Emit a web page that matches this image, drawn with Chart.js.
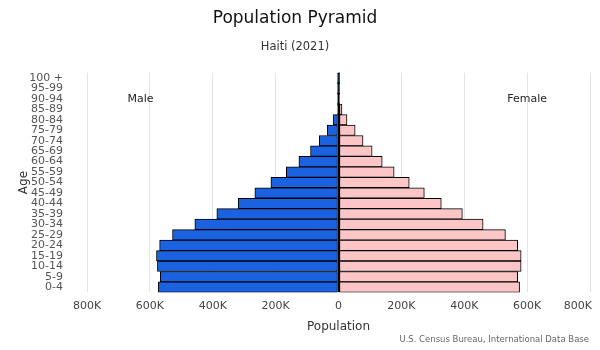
<!DOCTYPE html>
<html>
<head>
<meta charset="utf-8">
<script src="https://cdn.jsdelivr.net/npm/chart.js@4.4.1/dist/chart.umd.min.js"></script>
<style>
    html, body { margin: 0; padding: 0; background: #fff; }
    #wrap { width: 600px; height: 350px; }
</style>
</head>
<body>
<div id="wrap"><canvas id="chart"></canvas></div>
<script>
// Данные (сверху вниз, как на графике)
const ageGroups = ['100 +', '95-99', '90-94', '85-89', '80-84', '75-79', '70-74', '65-69',
    '60-64', '55-59', '50-54', '45-49', '40-44', '35-39', '30-34', '25-29', '20-24',
    '15-19', '10-14', '5-9', '0-4'];
const maleValues = [100, 500, 1800, 4000, 17000, 36000, 61000, 89000, 126000, 166000, 215000,
    266000, 319000, 387000, 457000, 528000, 569000, 579000, 576000, 567000, 573000];
const femaleValues = [300, 1000, 3500, 11000, 27000, 53000, 78000, 107000, 139000, 177000, 225000,
    273000, 327000, 394000, 460000, 531000, 570000, 581000, 581000, 570000, 576000];
const axisTicks = [-800000, -600000, -400000, -200000, 0, 200000, 400000, 600000, 800000];

const FONT = "'DejaVu Sans', sans-serif";

// Подписи Male / Female и источник
const extraText = {
    id: 'extraText',
    afterDatasetsDraw(chart) {
        const ctx = chart.ctx;
        const x = chart.scales.x;
        ctx.save();
        ctx.font = `11px ${FONT}`;
        ctx.fillStyle = '#222';
        ctx.textAlign = 'center';
        ctx.textBaseline = 'middle';
        ctx.fillText('Male', x.getPixelForValue(-630000), 99);
        ctx.fillText('Female', x.getPixelForValue(600000), 99);
        ctx.font = `8.5px ${FONT}`;
        ctx.fillStyle = '#666';
        ctx.textAlign = 'right';
        ctx.fillText('U.S. Census Bureau, International Data Base', 589, 340);
        ctx.restore();
    }
};

const ctx = document.getElementById('chart').getContext('2d');
const chart = new Chart(ctx, {
    type: 'bar',
    data: {
        labels: ageGroups,
        datasets: [
            {
                label: 'Male',
                data: maleValues.map(v => -v),
                backgroundColor: '#1a62e0',
                borderColor: '#000',
                borderWidth: 1,
                borderSkipped: false,
                barPercentage: 1,
                categoryPercentage: 1
            },
            {
                label: 'Female',
                data: femaleValues,
                backgroundColor: '#fcc6c7',
                borderColor: '#000',
                borderWidth: 1,
                borderSkipped: false,
                barPercentage: 1,
                categoryPercentage: 1
            }
        ]
    },
    options: {
        indexAxis: 'y',
        responsive: true,
        maintainAspectRatio: false,
        animation: false,
        layout: { padding: { left: 0, right: 10, top: 0, bottom: 0 } },
        plugins: {
            legend: { display: false },
            tooltip: { enabled: false },
            title: {
                display: true,
                text: 'Population Pyramid',
                color: '#111',
                font: { family: FONT, size: 17, weight: 'normal' },
                padding: { top: 8, bottom: 0 }
            },
            subtitle: {
                display: true,
                text: 'Haiti (2021)',
                color: '#333',
                font: { family: FONT, size: 11.5 },
                padding: { top: 12, bottom: 18.5 }
            }
        },
        scales: {
            x: {
                stacked: true,
                min: -800000,
                max: 800000,
                afterBuildTicks: (s) => { s.ticks = axisTicks.map(v => ({ value: v })); },
                afterFit: (s) => { s.paddingRight = 0; },
                border: { display: false },
                grid: {
                    // линия нуля чёрная и толще
                    color: (c) => (c.tick && c.tick.value === 0 ? '#000' : '#e3e3e3'),
                    lineWidth: (c) => (c.tick && c.tick.value === 0 ? 2 : 1),
                    drawTicks: false
                },
                ticks: {
                    padding: 7,
                    color: '#444',
                    font: { family: FONT, size: 11 },
                    callback: (v) => {
                        const a = Math.abs(v);
                        let t = a === 0 ? '0' : (a / 1000) + 'K';
                        if (v === 800000) t += '\u0020\u0020\u0020\u0020\u0020\u0020\u0020';
                        return t;
                    }
                },
                title: {
                    display: true,
                    text: 'Population',
                    color: '#333',
                    font: { family: FONT, size: 12 },
                    padding: { top: 0, bottom: 16 }
                }
            },
            y: {
                stacked: true,
                afterFit: (s) => { s.width = 87; },
                border: { display: false },
                grid: { display: false },
                ticks: {
                    padding: 16,
                    color: '#555',
                    font: { family: FONT, size: 11 },
                    autoSkip: false
                },
                title: {
                    display: true,
                    text: 'Age',
                    color: '#333',
                    font: { family: FONT, size: 12 },
                    padding: { top: 17, bottom: 0 }
                }
            }
        }
    },
    plugins: [extraText]
});
</script>
</body>
</html>
